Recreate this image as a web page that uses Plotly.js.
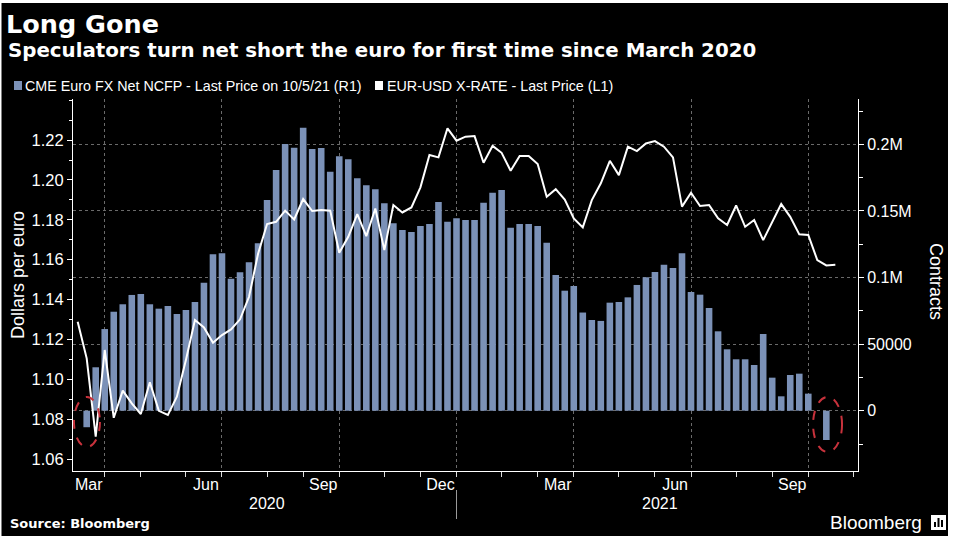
<!DOCTYPE html>
<html><head><meta charset="utf-8">
<script src="https://cdn.plot.ly/plotly-3.0.1.min.js"></script>
<style>html,body{margin:0;padding:0;background:#fff;}#chart{width:954px;height:540px;}</style>
</head><body><div id="chart"></div>
<script>
// Weekly (Friday) dates
const weekDates = [
 '2020-03-06','2020-03-13','2020-03-20','2020-03-27','2020-04-03','2020-04-10','2020-04-17','2020-04-24',
 '2020-05-01','2020-05-08','2020-05-15','2020-05-22','2020-05-29','2020-06-05','2020-06-12','2020-06-19','2020-06-26',
 '2020-07-03','2020-07-10','2020-07-17','2020-07-24','2020-07-31','2020-08-07','2020-08-14','2020-08-21','2020-08-28',
 '2020-09-04','2020-09-11','2020-09-18','2020-09-25','2020-10-02','2020-10-09','2020-10-16','2020-10-23','2020-10-30',
 '2020-11-06','2020-11-13','2020-11-20','2020-11-27','2020-12-04','2020-12-11','2020-12-18','2020-12-25',
 '2021-01-01','2021-01-08','2021-01-15','2021-01-22','2021-01-29','2021-02-05','2021-02-12','2021-02-19','2021-02-26',
 '2021-03-05','2021-03-12','2021-03-19','2021-03-26','2021-04-02','2021-04-09','2021-04-16','2021-04-23','2021-04-30',
 '2021-05-07','2021-05-14','2021-05-21','2021-05-28','2021-06-04','2021-06-11','2021-06-18','2021-06-25',
 '2021-07-02','2021-07-09','2021-07-16','2021-07-23','2021-07-30','2021-08-06','2021-08-13','2021-08-20','2021-08-27',
 '2021-09-03','2021-09-10','2021-09-17','2021-09-24','2021-10-01','2021-10-08','2021-10-15'
];
// EUR-USD X-RATE (L1), dollars per euro
const eurusd = [
 1.1289,1.1105,1.0712,1.1147,1.0807,1.0943,1.0879,1.0826,
 1.0985,1.0842,1.0821,1.0913,1.1097,1.1297,1.1260,1.1183,1.1222,
 1.1250,1.1301,1.1414,1.1630,1.1779,1.1790,1.1846,1.1802,1.1904,
 1.1844,1.1849,1.1846,1.1635,1.1715,1.1828,1.1718,1.1857,1.1648,
 1.1874,1.1837,1.1862,1.1963,1.2125,1.2113,1.2259,1.2197,
 1.2217,1.2220,1.2086,1.2171,1.2136,1.2046,1.2120,1.2120,1.2080,
 1.1916,1.1954,1.1902,1.1807,1.1762,1.1899,1.1983,1.2096,1.2024,
 1.2167,1.2145,1.2183,1.2195,1.2167,1.2113,1.1866,1.1936,
 1.1869,1.1874,1.1807,1.1774,1.1872,1.1765,1.1799,1.1698,1.1790,
 1.1879,1.1815,1.1727,1.1724,1.1598,1.1571,1.1574
];
// CME Euro FX Net NCFP (R1), contracts
const netNcfp = [
 -12400,32600,61300,74300,79900,86900,87600,79900,76600,78600,
 72600,75600,81600,96100,117400,118200,99100,103900,111400,125700,
 158200,180700,200200,197400,212500,196500,197200,179400,191000,188700,
 174500,169200,166200,155700,140700,135700,134200,138700,140200,156700,
 141900,144400,143200,143200,156200,163700,165700,137400,140200,140200,
 138700,126100,101900,90100,93600,73700,68100,67400,81100,81600,
 85100,94400,100200,104100,109600,107100,118200,89100,87100,77100,
 59600,46100,38600,38600,34300,57600,24800,10800,26800,27800,
 12800,0,-22000
];
const barDates = weekDates.slice(1, 1 + netNcfp.length);

const leftTicks = [1.06,1.08,1.10,1.12,1.14,1.16,1.18,1.20,1.22];
const rightTickVals = [0,50000,100000,150000,200000];
const rightTickText = ['0','50000','0.1M','0.15M','0.2M'];
const rightMinor = [-25000,25000,75000,125000,175000,225000];
const quarterTicks = ['2020-03-27','2020-06-26','2020-09-25','2020-12-25','2021-03-26','2021-06-25','2021-09-24'];
const quarterLabels = ['Mar','Jun','Sep','Dec','Mar','Jun','Sep'];
const monthTicks = ['2020-04-24','2020-05-29','2020-07-31','2020-08-28','2020-10-30','2020-11-27',
  '2021-01-29','2021-02-26','2021-04-30','2021-05-28','2021-07-30','2021-08-27','2021-10-29'];
const yearLabels = [{text:'2020', at:'2020-07-31'}, {text:'2021', at:'2021-06-01'}];
const seriesNames = ['CME Euro FX Net NCFP - Last Price on 10/5/21 (R1)', 'EUR-USD X-RATE - Last Price (L1)'];

const BAR = '#7b91b7';
const L=73, R=858, T=99, B=471;
const px = x => (x-L)/(R-L);
const py = y => (B-y)/(B-T);
const FONT = 'Liberation Sans, Arial, sans-serif';
const BOLD = 'DejaVu Sans, sans-serif';

const traces = [
  {type:'bar', x:barDates, y:netNcfp, yaxis:'y', xaxis:'x', marker:{color:BAR, line:{width:0}}, name:seriesNames[0], showlegend:false, hoverinfo:'skip'},
  {type:'scatter', mode:'lines', x:weekDates, y:eurusd, yaxis:'y2', xaxis:'x', line:{color:'#ffffff', width:2}, name:seriesNames[1], showlegend:false, hoverinfo:'skip'}
];

const annotations = [
  {xref:'paper', yref:'paper', x:px(6), y:py(51), xanchor:'left', yanchor:'middle', showarrow:false,
   text:'<b>Speculators turn net short the euro for first time since March 2020</b>', font:{family:BOLD, size:19.8, color:'#fff'}},
  {xref:'paper', yref:'paper', x:px(23), y:py(86), xanchor:'left', yanchor:'middle', showarrow:false,
   text:seriesNames[0], font:{family:FONT, size:14.3, color:'#fff'}},
  {xref:'paper', yref:'paper', x:px(385), y:py(86), xanchor:'left', yanchor:'middle', showarrow:false,
   text:seriesNames[1], font:{family:FONT, size:14.3, color:'#fff'}},
  {xref:'paper', yref:'paper', x:px(18), y:py(275), xanchor:'center', yanchor:'middle', showarrow:false, textangle:-90,
   text:'Dollars per euro', font:{family:FONT, size:18, color:'#fff'}},
  {xref:'paper', yref:'paper', x:px(936), y:py(281), xanchor:'center', yanchor:'middle', showarrow:false, textangle:90,
   text:'Contracts', font:{family:FONT, size:18, color:'#fff'}},
  {xref:'paper', yref:'paper', x:px(8), y:py(523), xanchor:'left', yanchor:'middle', showarrow:false,
   text:'<b>Source: Bloomberg</b>', font:{family:BOLD, size:13, color:'#fff'}},
  {xref:'paper', yref:'paper', x:px(924), y:py(522), xanchor:'right', yanchor:'middle', showarrow:false,
   text:'Bloomberg', font:{family:FONT, size:19, color:'#fff'}}
];
yearLabels.forEach(yl => annotations.push({xref:'x', yref:'paper', x:yl.at, y:py(503), xanchor:'center', yanchor:'middle',
  showarrow:false, text:yl.text, font:{family:FONT, size:16, color:'#fff'}}));

const shapes = [
  {type:'rect', xref:'paper', yref:'paper', x0:px(1.5), x1:px(948), y0:py(536), y1:py(3), fillcolor:'#000', line:{width:0}, layer:'below'},
  {type:'rect', xref:'paper', yref:'paper', x0:px(14), x1:px(22), y0:py(90), y1:py(81), fillcolor:BAR, line:{width:0}},
  {type:'rect', xref:'paper', yref:'paper', x0:px(375), x1:px(383), y0:py(90), y1:py(81), fillcolor:'#fff', line:{width:0}},
  {type:'line', xref:'x', yref:'paper', x0:quarterTicks[3], x1:quarterTicks[3], y0:py(490), y1:py(519), line:{color:'#9a9a9a', width:1}},
  {type:'circle', xref:'x', yref:'y', x0:'2020-03-03 03:00', x1:'2020-03-23 07:00', y0:-27250, y1:10300, line:{color:'#c8323c', width:2, dash:'dash'}},
  {type:'circle', xref:'x', yref:'y', x0:'2021-09-27 17:00', x1:'2021-10-20 05:00', y0:-31000, y1:10300, line:{color:'#c8323c', width:2, dash:'dash'}},
  {type:'rect', xref:'paper', yref:'paper', x0:px(931), x1:px(946), y0:py(530), y1:py(515), fillcolor:'#fff', line:{width:0}},
  {type:'rect', xref:'paper', yref:'paper', x0:px(934), x1:px(936), y0:py(527), y1:py(522), fillcolor:'#000', line:{width:0}},
  {type:'rect', xref:'paper', yref:'paper', x0:px(937.5), x1:px(939.5), y0:py(527), y1:py(518), fillcolor:'#000', line:{width:0}},
  {type:'rect', xref:'paper', yref:'paper', x0:px(941), x1:px(943), y0:py(527), y1:py(520), fillcolor:'#000', line:{width:0}}
];

const layout = {
  width:954, height:540, autosize:false,
  margin:{l:L, r:954-R, t:T, b:540-B, pad:0},
  paper_bgcolor:'#ffffff', plot_bgcolor:'rgba(0,0,0,0)',
  font:{family:FONT, color:'#fff', size:16},
  showlegend:false, bargap:0.27, hovermode:false,
  title:{text:'<b>Long Gone</b>', font:{family:BOLD, size:25.5, color:'#fff'},
    xref:'container', yref:'container', x:6/954, xanchor:'left', y:1-24/540, yanchor:'middle'},
  xaxis:{type:'date', range:['2020-03-02 09:00','2021-11-01 14:00'],
    tickmode:'array', tickvals:quarterTicks, ticktext:quarterLabels, ticklabelshift:-16, ticklabelstandoff:-6,
    ticks:'outside', ticklen:5, tickcolor:'#dddddd', tickwidth:1,
    showgrid:true, gridcolor:'#6a6a6a', griddash:'dot', gridwidth:1,
    showline:true, linecolor:'#ffffff', linewidth:1, zeroline:false,
    tickfont:{family:FONT, size:16, color:'#fff'},
    minor:{tickmode:'array', tickvals:monthTicks, ticks:'outside', ticklen:5, tickcolor:'#dddddd', showgrid:false}},
  yaxis:{side:'right', range:[-45270, 234009], tickmode:'array', tickvals:rightTickVals, ticktext:rightTickText,
    ticks:'outside', ticklen:5, tickcolor:'#ffffff', showline:true, linecolor:'#ffffff', linewidth:1,
    showgrid:true, gridcolor:'#6a6a6a', griddash:'dot', gridwidth:1, zeroline:false,
    tickfont:{family:FONT, size:16, color:'#fff'},
    minor:{tickmode:'array', tickvals:rightMinor, ticks:'outside', ticklen:4, tickcolor:'#ffffff', showgrid:false}},
  yaxis2:{overlaying:'y', side:'left', range:[1.054, 1.2406], tickmode:'array', tickvals:leftTicks, tickformat:'.2f',
    ticks:'outside', ticklen:5, tickcolor:'#ffffff', showline:true, linecolor:'#ffffff', linewidth:1,
    showgrid:false, zeroline:false, tickfont:{family:FONT, size:16.5, color:'#fff'},
    minor:{tickmode:'linear', tick0:1.0, dtick:0.01, ticks:'outside', ticklen:3, tickcolor:'#ffffff', showgrid:false}},
  annotations:annotations,
  shapes:shapes
};

Plotly.newPlot('chart', traces, layout, {staticPlot:true, displayModeBar:false});
</script>
</body></html>
